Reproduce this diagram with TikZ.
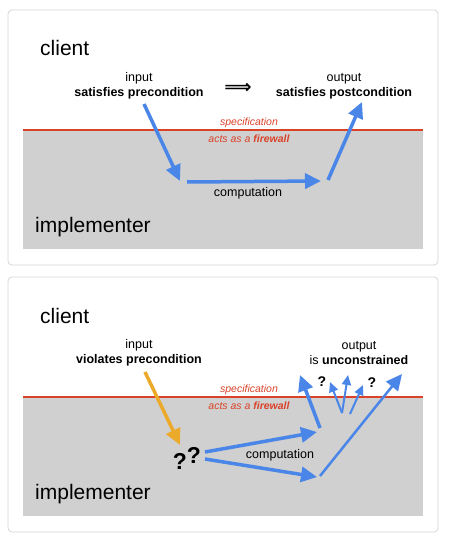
\documentclass[tikz,border=0pt]{standalone}
\usepackage{fontspec}
\setmainfont{Liberation Sans}
\newfontfamily\arrowfont{DejaVu Sans}
\usetikzlibrary{arrows.meta,positioning}
\definecolor{flowblue}{RGB}{74,134,232}
\definecolor{warnorange}{RGB}{236,170,42}
\definecolor{specred}{RGB}{218,66,40}
\definecolor{implgray}{RGB}{208,208,208}
\definecolor{cardgray}{RGB}{214,214,214}
\tikzset{
  card/.style={draw=cardgray,line width=0.8pt,rounded corners=4pt,fill=white},
  realm/.style={fill=implgray,draw=none},
  wall/.style={draw=specred,line width=1.3pt},
  party/.style={font=\fontsize{21}{24}\selectfont,anchor=base west,inner sep=0pt},
  cond/.style={font=\fontsize{12.5}{15}\selectfont,align=center,inner sep=0pt},
  spec/.style={font=\fontsize{10.5}{12}\selectfont\itshape,text=specred,inner sep=0pt},
  unknown/.style={font=\fontsize{23}{23}\selectfont\bfseries,inner sep=0pt},
  smallq/.style={font=\fontsize{14}{14}\selectfont\bfseries,inner sep=0pt},
  flow/.style={draw=flowblue,line width=3.5pt,-{Triangle[length=16pt,width=15pt]}},
  badflow/.style={flow,draw=warnorange},
  scatter/.style={draw=flowblue,line width=2pt,-{Triangle[length=10pt,width=9pt]}}
}
\begin{document}
\begin{tikzpicture}[x=1pt,y=-1pt]
  \useasboundingbox (0,0) rectangle (450,540);

  % precondition satisfied
  \draw[card] (8,10) rectangle (438,265);
  \fill[realm] (23,130) rectangle (423,249);
  \draw[wall] (23,130) -- (423,130);
  \node[party] (client1) at (40,56) {client};
  \node[party] (impl1) at (35,232) {implementer};
  \node[cond] (pre1) at (139,86) {input\\\textbf{satisfies precondition}};
  \node[cond] (post1) at (344,86) {output\\\textbf{satisfies postcondition}};
  \node[font=\fontsize{19}{19}\selectfont\arrowfont\bfseries,inner sep=0pt] (implies) at (238,88) {⟹};
  \node[spec] (spec1) at (249,123) {specification};
  \node[spec] (fw1) at (249,139) {acts as a \textbf{firewall}};
  \node[cond] (comp1) at (248,193) {computation};
  \coordinate (in1) at (144,104);
  \coordinate (down1) at (180,181);
  \coordinate (run1) at (187,182);
  \coordinate (done1) at (321,181);
  \coordinate (up1) at (328,180);
  \coordinate (out1) at (362,102);
  \draw[flow] (in1) -- (down1);
  \draw[flow] (run1) -- (done1);
  \draw[flow] (up1) -- (out1);

  % precondition violated
  \draw[card] (8,277) rectangle (438,532);
  \fill[realm] (23,397) rectangle (423,516);
  \draw[wall] (23,397) -- (423,397);
  \node[party] (client2) at (40,323) {client};
  \node[party] (impl2) at (35,499) {implementer};
  \node[cond] (pre2) at (139,353) {input\\\textbf{violates precondition}};
  \node[cond] (post2) at (359,353) {output\\is \textbf{unconstrained}};
  \node[spec] (spec2) at (249,390) {specification};
  \node[spec] (fw2) at (249,406) {acts as a \textbf{firewall}};
  \node[cond] (comp2) at (280,455) {computation};
  \node[unknown] (qa) at (180,461) {?};
  \node[unknown] (qb) at (194,455) {?};
  \node[smallq] (qc) at (322,382) {?};
  \node[smallq] (qd) at (372,383) {?};
  \coordinate (in2) at (145,372);
  \coordinate (down2) at (180,445);
  \coordinate (runa) at (205,452);
  \coordinate (donea) at (317,432);
  \coordinate (runb) at (205,459);
  \coordinate (doneb) at (317,477);
  \coordinate (upa) at (320,428);
  \coordinate (outa) at (300,375);
  \coordinate (fan) at (342,413);
  \coordinate (outb) at (330,382);
  \coordinate (outc) at (348,375);
  \coordinate (fan2) at (350,414);
  \coordinate (outd) at (363,385);
  \coordinate (upb) at (320,476);
  \coordinate (oute) at (402,374);
  \draw[badflow] (in2) -- (down2);
  \draw[flow] (runa) -- (donea);
  \draw[flow] (runb) -- (doneb);
  \draw[flow] (upa) -- (outa);
  \draw[scatter] (fan) -- (outb);
  \draw[scatter] (fan) -- (outc);
  \draw[scatter] (fan2) -- (outd);
  \draw[flow,line width=2.5pt] (upb) -- (oute);
\end{tikzpicture}
\end{document}
